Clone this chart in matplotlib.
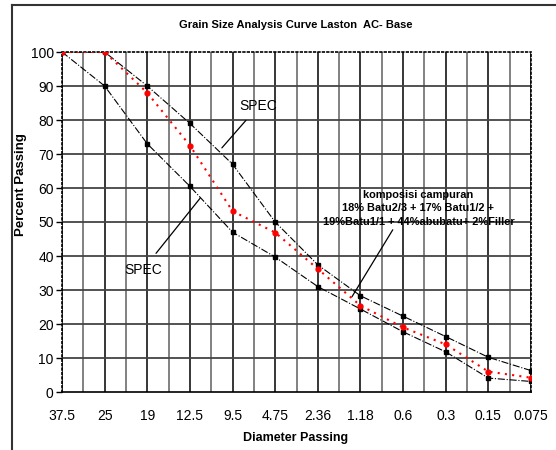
import matplotlib
matplotlib.use("Agg")
import matplotlib.pyplot as plt
from matplotlib.lines import Line2D

plt.rcParams['font.family'] = ['Liberation Sans', 'DejaVu Sans']

sizes = ["37.5", "25", "19", "12.5", "9.5", "4.75", "2.36", "1.18", "0.6", "0.3", "0.15", "0.075"]
spec_upper = [100, 100, 90, 79, 67, 50, 37.4, 28.3, 22.3, 16.3, 10.2, 6.3]
spec_lower = [100, 90, 73, 60.5, 47, 39.7, 31, 24.4, 17.7, 11.8, 4.1, 3.1]
blend = [100, 100, 88, 72.5, 53.2, 46.9, 36.2, 25.4, 19, 14, 6, 4.2]

W, H = 556, 450
fig = plt.figure(figsize=(W / 100, H / 100), dpi=100)
ax = fig.add_axes([62 / W, 1 - 392 / H, (531 - 62) / W, (392 - 52) / H])

x = list(range(len(sizes)))

# grid
for i in range(len(sizes)):
    ax.axvline(i, color="black", lw=1.1, zorder=1)
    if i < len(sizes) - 1:
        ax.axvline(i + 0.5, color="#777777", lw=1.3, zorder=1)
for yv in range(10, 100, 10):
    ax.axhline(yv, color="#444444", lw=1.3, zorder=1)

ax.plot(x, spec_upper, color="black", lw=0.8, ls="-.", marker="s", ms=3.5, zorder=3)
ax.plot(x, spec_lower, color="black", lw=0.8, ls="-.", marker="s", ms=3.5, zorder=3)
ax.plot(x, blend, color="red", lw=1.5, ls=(0, (1, 2.5)), marker="o", ms=3.5, zorder=4)

ax.set_xlim(0, len(sizes) - 1)
ax.set_ylim(0, 100)
ax.set_xticks(x)
ax.set_xticklabels(sizes)
ax.set_yticks(range(0, 101, 10))
ax.tick_params(axis="y", length=4, width=1, labelsize=10, pad=2)
ax.tick_params(axis="x", length=0, labelsize=10, pad=12)
for s in ["top", "right", "left"]:
    ax.spines[s].set_linestyle(":")
    ax.spines[s].set_linewidth(1.2)
ax.spines["bottom"].set_linewidth(1.2)

fig.text(21 / W, 1 - 185 / H, "Percent Passing", rotation=90, ha="center", va="center",
         fontsize=9.5, fontweight="bold")
fig.text(296 / W, 1 - 438 / H, "Diameter Passing", ha="center", va="center",
         fontsize=9, fontweight="bold")
fig.text(296 / W, 1 - 25 / H, "Grain Size Analysis Curve Laston  AC- Base", ha="center", va="center",
         fontsize=8, fontweight="bold")

# annotations
ax.annotate("SPEC", xy=(3.75, 71.8), xytext=(4.6, 84), fontsize=10, ha="center", va="center",
            arrowprops=dict(arrowstyle="-", color="black", lw=0.9, shrinkA=4, shrinkB=0))
ax.annotate("SPEC", xy=(3.24, 57), xytext=(1.9, 36), fontsize=10, ha="center", va="center",
            arrowprops=dict(arrowstyle="-", color="black", lw=0.9, shrinkA=6, shrinkB=0))
ax.annotate("komposisi campuran\n18% Batu2/3 + 17% Batu1/2 +\n19%Batu1/1 + 44%abubatu+ 2%Filler",
            xy=(6.8, 28), xytext=(8.36, 54), fontsize=7.9, fontweight="bold", ha="center", va="center",
            linespacing=1.45,
            arrowprops=dict(arrowstyle="-", color="black", lw=0.9, shrinkA=0, shrinkB=0,
                            relpos=(0.44, 0.55)))

# chart border
fig.add_artist(Line2D([12 / W, 12 / W], [0, 1 - 5 / H], color="#333333", lw=1.5))
fig.add_artist(Line2D([12 / W, 1], [1 - 5 / H, 1 - 5 / H], color="#333333", lw=1.5))

fig.savefig("out.png", dpi=100)
